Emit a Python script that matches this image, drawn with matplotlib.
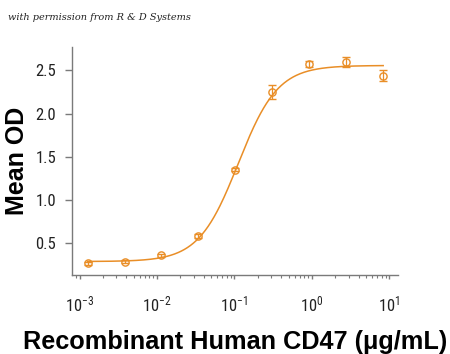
import numpy as np
import matplotlib
matplotlib.use("Agg")
import matplotlib.pyplot as plt
from matplotlib import font_manager as fm
from matplotlib.ticker import LogLocator, NullFormatter, FixedLocator

# ---- data ----
conc = [0.00127, 0.00381, 0.0114, 0.0343, 0.103, 0.309, 0.926, 2.78, 8.33]
mean_od = [0.27, 0.29, 0.36, 0.585, 1.353, 2.247, 2.573, 2.596, 2.438]
err = [0.015, 0.012, 0.02, 0.02, 0.02, 0.077, 0.03, 0.054, 0.067]

# 4PL fit parameters
fit_bottom = 0.29
fit_top = 2.555
fit_ec50 = 0.112
fit_hill = 1.7

yticks = [0.5, 1.0, 1.5, 2.0, 2.5]
ytick_labels = ["0.5", "1.0", "1.5", "2.0", "2.5"]
xticks = [1e-3, 1e-2, 1e-1, 1e0, 1e1]
xtick_labels = ["$10^{-3}$", "$10^{-2}$", "$10^{-1}$", "$10^{0}$", "$10^{1}$"]

orange = "#E98E27"
spine_c = "#7a7a7a"

names = {f.name for f in fm.fontManager.ttflist}
tick_font = "Liberation Sans"
for cand in ["Roboto Condensed", "Liberation Sans Narrow", "Open Sans Condensed", "Lato"]:
    if cand in names:
        tick_font = cand
        break

plt.rcParams["mathtext.fontset"] = "custom"
plt.rcParams["mathtext.rm"] = tick_font
plt.rcParams["mathtext.it"] = tick_font
plt.rcParams["mathtext.default"] = "rm"

fig = plt.figure(figsize=(4.5, 3.54), dpi=100)
ax = fig.add_axes([72.3/450, 1-275.3/354, (397.7-72.3)/450, (275.3-47.3)/354])

xs = np.logspace(np.log10(conc[0]), np.log10(conc[-1]), 300)
ys = fit_bottom + (fit_top - fit_bottom) / (1 + (fit_ec50 / xs) ** fit_hill)
ax.plot(xs, ys, color=orange, lw=1.1, zorder=2)
ax.errorbar(conc, mean_od, yerr=err, fmt="o", mfc="none", mec=orange, ecolor=orange,
            ms=5.2, mew=1.0, elinewidth=0.9, capsize=3.2, capthick=0.9, zorder=3)

ax.set_xscale("log")
ax.set_xlim(10**-3.093, 10**1.108)
ax.set_ylim(0.131, 2.765)

for s in ["top", "right"]:
    ax.spines[s].set_visible(False)
for s in ["left", "bottom"]:
    ax.spines[s].set_color(spine_c)
    ax.spines[s].set_linewidth(1.0)

ax.set_yticks(yticks)
ax.set_yticklabels(ytick_labels)
ax.xaxis.set_major_locator(FixedLocator(xticks))
ax.set_xticklabels(xtick_labels)
ax.xaxis.set_minor_locator(LogLocator(base=10, subs=np.arange(2, 10)))
ax.xaxis.set_minor_formatter(NullFormatter())

ax.tick_params(axis="y", which="major", length=5, width=1, color=spine_c, pad=6.5,
               labelsize=12, labelcolor="#222222")
ax.tick_params(axis="x", which="major", length=3, width=1, color=spine_c, pad=11,
               labelsize=12, labelcolor="#222222")
ax.tick_params(axis="x", which="minor", length=2, width=0.8, color=spine_c)
for lab in ax.get_yticklabels() + ax.get_xticklabels():
    lab.set_family(tick_font)

ax.set_ylabel("Mean OD", fontsize=18, fontweight="bold", family="Liberation Sans")
ax.yaxis.set_label_coords((29 - 72.3) / 325.4, 0.5)
ax.set_xlabel("Recombinant Human CD47 (μg/mL)", fontsize=18.2, fontweight="bold",
              family="Liberation Sans", labelpad=11)

fig.text(8/450, 1-17/354, "with permission from R & D Systems", fontsize=7,
         style="italic", family="DejaVu Serif", color="#222222", va="center", ha="left")

fig.savefig("out.png", dpi=100)
